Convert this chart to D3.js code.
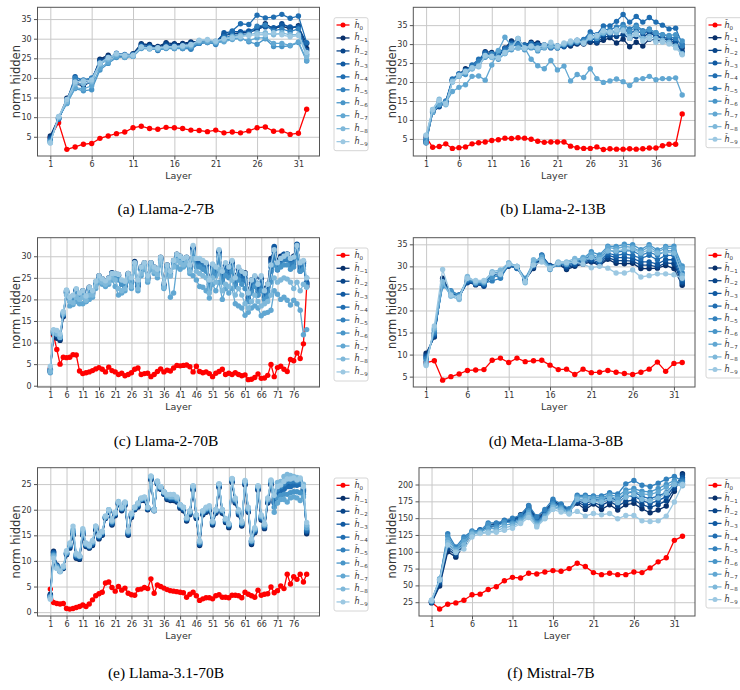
<!DOCTYPE html>
<html><head><meta charset="utf-8">
<script src="https://cdn.jsdelivr.net/npm/d3@7"></script>
<style>body{margin:0;background:#fff}svg{display:block}</style>
</head><body>
<svg id="chart" width="740" height="690"></svg>
<script>
// ---------------- DATA ----------------
const seriesLabels = ["0","\u22121","\u22122","\u22123","\u22124","\u22125","\u22126","\u22127","\u22128","\u22129"];
const xTicks32 = [1,6,11,16,21,26,31];
const xTicks40 = [1,6,11,16,21,26,31,36];
const xTicks80 = [1,6,11,16,21,26,31,36,41,46,51,56,61,66,71,76];
const yTicksA = [5,10,15,20,25,30,35];
const yTicksB = [5,10,15,20,25,30,35];
const yTicksC = [0,5,10,15,20,25,30];
const yTicksD = [5,10,15,20,25,30,35];
const yTicksE = [0,5,10,15,20,25];
const yTicksF = [25,50,75,100,125,150,175,200];
const captions = ["(a) Llama-2-7B","(b) Llama-2-13B","(c) Llama-2-70B","(d) Meta-Llama-3-8B","(e) Llama-3.1-70B","(f) Mistral-7B"];

// (a) Llama-2-7B
const a_h0 = [4.8,8.6,1.8,2.4,3.1,3.3,4.6,5.2,5.8,6.2,7.3,7.7,7.1,6.9,7.4,7.3,7.1,6.7,6.6,6.3,6.7,6.0,6.2,6.0,6.5,7.3,7.5,6.4,6.5,5.6,5.9,12.0];
const a_h1 = [5.2,9.8,14.8,18.5,18.0,19.2,24.8,25.8,25.5,25.3,26.2,28.7,28.5,28.0,29.0,28.7,28.8,29.2,29.3,29.5,29.3,31.0,31.3,31.5,31.8,32.5,33.8,32.5,33.2,32.5,33.3,27.5];
const a_h2 = [4.8,9.6,14.5,19.0,18.2,19.0,24.5,25.5,25.6,25.5,26.0,28.5,28.3,27.8,28.7,28.5,28.5,29.0,29.2,29.4,29.2,30.8,31.2,31.4,31.6,32.3,33.2,32.3,33.8,32.8,33.0,28.8];
const a_h3 = [4.5,9.5,14.2,20.3,19.2,19.8,24.2,25.2,25.8,25.8,25.8,28.2,28.0,27.5,28.3,28.2,28.2,28.6,29.0,29.3,29.0,31.5,31.8,31.8,32.0,32.8,33.0,32.8,33.5,33.0,33.0,27.0];
const a_h4 = [4.2,9.5,14.0,19.5,19.0,19.5,23.8,25.0,26.3,26.0,26.0,28.0,27.8,27.0,27.8,27.8,27.5,27.5,28.8,29.0,28.8,30.5,32.0,33.8,33.6,36.0,35.3,35.5,36.2,35.2,35.8,29.0];
const a_h5 = [4.0,9.7,13.8,20.0,19.5,20.0,23.5,24.8,25.8,25.8,25.5,27.8,27.7,27.2,27.6,27.5,27.8,27.3,28.8,29.2,28.5,30.2,30.8,31.0,31.2,33.2,33.5,32.0,32.5,31.8,32.5,26.0];
const a_h6 = [3.8,9.8,13.5,17.3,16.7,17.0,22.0,23.7,25.2,25.3,25.5,27.5,27.5,27.2,27.5,27.5,27.5,27.8,29.0,29.0,28.8,29.5,30.0,30.2,29.2,28.6,30.0,28.0,28.0,28.2,29.0,24.3];
const a_h7 = [3.6,10.0,13.5,17.5,17.2,18.0,22.5,24.0,25.5,25.2,25.5,27.6,27.4,27.3,27.7,27.6,27.8,28.0,29.2,29.2,29.0,29.2,29.8,30.0,29.5,30.2,30.2,28.8,28.8,28.3,29.2,24.5];
const a_h8 = [3.5,10.0,14.0,18.5,18.5,19.0,23.5,24.8,26.0,25.5,25.6,27.8,27.5,27.6,27.8,27.8,28.0,28.3,29.5,29.6,29.2,29.8,30.5,30.8,31.0,31.5,31.5,31.0,31.5,31.0,31.0,25.5];
const a_h9 = [3.4,10.2,14.5,19.0,19.2,19.5,23.8,25.2,26.2,25.8,25.8,27.9,27.6,27.7,27.9,28.0,28.2,28.5,29.6,29.8,29.4,30.0,30.2,30.5,30.8,31.0,31.0,31.5,31.0,30.5,30.8,26.5];

// (b) Llama-2-13B
const b_h0 = [5.5,2.8,3.0,3.7,2.5,2.7,2.9,3.7,4.0,4.2,4.6,4.8,5.2,5.1,5.3,5.2,4.9,4.4,4.1,4.2,4.2,4.2,3.1,2.7,2.5,2.5,2.9,2.2,2.4,2.3,2.3,2.4,2.3,2.4,2.6,2.6,3.2,3.6,3.6,11.6];
const b_h1 = [4.0,12.2,13.8,14.8,20.5,22.0,23.5,24.0,25.5,28.0,27.8,27.5,29.0,30.8,30.8,29.8,30.5,30.3,29.8,29.5,29.3,29.5,29.5,30.0,30.0,30.5,30.3,31.0,31.7,30.3,31.3,29.3,30.5,29.5,31.3,31.0,30.8,30.5,30.0,29.0];
const b_h2 = [4.2,12.0,13.5,14.5,20.3,21.8,23.2,23.8,25.2,27.5,27.5,27.3,28.8,30.5,30.5,29.6,30.2,30.0,29.5,29.3,29.2,29.5,29.8,30.2,30.3,30.8,30.5,31.8,32.2,32.0,32.5,31.5,32.0,31.8,33.0,32.0,31.5,31.0,30.5,28.0];
const b_h3 = [4.5,12.2,13.7,14.6,20.5,22.0,22.5,24.2,25.0,27.8,27.0,27.0,28.5,30.2,30.0,29.5,30.0,29.5,29.2,29.0,29.0,29.3,30.0,30.5,30.6,31.5,31.0,32.5,32.8,33.2,34.0,33.0,33.5,32.8,33.5,32.3,31.8,31.5,31.0,27.5];
const b_h4 = [4.8,12.4,14.0,15.0,20.8,22.2,23.0,24.5,26.0,27.5,27.3,27.8,28.8,30.0,30.2,29.8,30.2,29.8,29.8,29.8,29.5,29.8,30.5,31.0,31.2,33.2,32.5,34.8,34.8,36.0,37.8,35.8,37.3,35.8,37.0,35.8,35.0,34.0,34.2,30.0];
const b_h5 = [5.0,12.5,14.5,14.8,20.5,21.8,23.0,24.0,25.5,27.0,27.5,28.0,28.2,29.5,29.8,29.0,29.5,29.0,29.5,29.8,29.5,30.0,30.5,30.8,31.0,32.5,32.0,33.8,33.8,34.5,35.2,34.0,35.0,33.5,34.0,33.0,32.5,32.0,31.5,29.5];
const b_h6 = [5.5,12.6,15.0,14.2,20.0,21.5,22.0,23.5,24.5,26.5,26.5,26.0,27.5,28.5,29.0,28.5,29.0,28.2,29.0,29.2,29.0,29.8,30.2,30.5,30.2,31.5,31.5,32.8,33.2,33.5,34.5,33.3,34.5,33.2,33.8,33.0,32.5,32.3,32.5,30.8];
const b_h7 = [4.0,12.0,14.0,14.5,17.5,18.6,19.3,21.5,21.6,20.5,24.5,28.3,31.8,29.5,31.5,29.0,26.0,24.3,23.5,25.7,23.2,24.2,20.3,22.0,21.2,23.5,20.9,19.9,20.3,20.8,20.1,19.1,20.6,20.9,21.5,20.6,20.9,20.9,21.1,16.6];
const b_h8 = [6.0,12.8,15.5,14.0,20.2,21.5,22.5,23.5,24.0,26.8,26.5,26.5,27.5,28.8,29.0,28.8,29.3,28.5,29.2,29.5,29.2,30.0,30.5,30.8,30.5,32.0,32.0,33.0,33.0,33.0,33.8,32.0,33.0,31.5,32.0,31.5,31.0,30.5,29.5,27.5];
const b_h9 = [6.0,12.7,15.2,14.3,20.0,21.8,22.8,23.8,24.2,27.0,26.8,26.3,27.8,29.0,31.5,29.0,29.5,29.0,29.8,30.5,29.5,30.3,30.8,31.0,30.2,31.8,32.3,33.5,33.2,33.8,33.5,31.5,32.5,30.8,31.5,30.5,30.5,30.0,29.0,27.2];

// (c) Llama-2-70B
const c_h0 = [4.0,11.7,8.4,5.0,6.6,6.5,6.6,7.2,7.1,3.4, 2.8,3.0,3.2,3.5,3.9,4.2,3.8,3.2,4.3,3.5, 3.2,2.6,2.9,2.3,2.6,3.0,3.8,4.1,2.6,2.8, 2.9,2.1,2.6,3.3,3.9,3.2,3.6,3.4,4.1,4.7, 4.6,4.7,4.8,4.4,3.2,4.5,3.3,3.0,3.2,2.8, 2.1,2.9,3.3,3.8,2.6,2.9,2.6,3.0,2.6,2.3, 2.5,1.4,1.5,1.9,2.7,1.7,1.8,2.4,4.9,2.1, 4.2,4.5,3.8,3.3,6.1,5.8,7.6,6.3,9.7,23.0];
const c_h1 = [3.2,12.0,11.0,10.5,16.0,21.5,20.2,20.8,22.0,21.2, 22.0,20.5,22.8,21.8,24.0,25.5,24.8,24.3,25.0,26.2, 26.0,25.8,23.5,23.0,26.0,24.0,28.8,23.0,27.5,28.5, 25.5,28.5,27.5,26.8,29.8,23.5,28.0,26.5,29.0,30.5, 30.0,29.2,29.8,28.0,31.8,29.0,29.2,28.8,28.2,25.0, 28.0,27.2,31.0,26.5,28.0,27.5,28.5,25.5,27.2,26.0, 26.2,22.0,24.5,25.2,23.5,25.0,22.5,23.5,29.5,31.5, 29.0,30.0,30.2,30.5,29.5,30.0,32.5,28.5,28.5,23.5];
const c_h2 = [3.3,12.2,11.5,10.8,16.2,21.6,20.1,20.6,22.1,21.1, 21.9,20.2,22.6,21.6,23.9,25.3,24.6,24.1,24.9,26.1, 25.9,25.6,23.8,23.4,25.9,24.2,28.6,23.4,27.3,28.3, 25.2,28.4,27.3,26.6,29.6,23.4,27.9,26.2,28.9,30.4, 29.9,29.1,29.6,27.8,31.9,28.9,29.0,28.6,28.0,24.5, 27.9,27.0,31.1,26.0,27.9,27.2,28.6,25.0,27.0,25.8, 26.0,21.5,24.0,25.1,23.0,24.9,22.0,23.2,29.0,32.0, 28.5,29.8,30.4,30.5,29.2,29.8,32.7,28.0,28.7,23.8];
const c_h3 = [3.4,12.4,11.8,11.0,16.4,21.7,20.0,20.5,22.2,21.0, 21.8,20.0,22.5,21.5,23.8,25.2,24.5,24.0,24.8,26.0, 25.8,25.5,24.2,23.8,25.8,24.5,28.5,23.8,27.2,28.2, 25.0,28.3,27.2,26.5,29.5,23.2,27.8,26.0,28.8,30.3, 29.8,29.0,29.5,27.5,32.0,28.8,28.8,28.5,27.8,23.5, 27.8,26.8,31.2,25.5,27.8,26.8,28.8,24.5,26.8,25.5, 25.8,20.5,23.5,25.0,22.5,24.8,21.0,22.8,28.5,32.3, 28.0,29.5,30.5,30.5,29.0,29.5,32.8,27.5,28.8,24.0];
const c_h4 = [3.6,12.6,12.4,11.2,16.6,21.9,19.8,20.3,22.3,20.8, 21.6,19.8,22.3,21.3,23.6,25.0,24.3,23.8,24.6,25.8, 25.6,25.2,24.0,23.6,25.6,24.3,28.3,23.6,27.0,28.0, 24.8,28.0,27.0,26.3,29.3,23.0,27.6,25.8,28.6,30.0, 29.6,28.8,29.2,27.2,31.5,28.3,28.3,28.0,27.3,23.0, 27.3,26.3,30.5,25.0,27.0,26.0,28.0,24.0,26.0,24.8, 25.0,20.0,22.8,24.3,21.8,24.0,20.5,22.0,27.5,31.0, 27.5,28.8,29.8,29.8,28.5,28.8,32.0,27.0,28.3,23.5];
const c_h5 = [3.8,12.8,12.6,11.5,16.8,22.0,19.6,20.0,22.0,20.5, 21.3,19.5,22.0,21.0,23.3,24.8,24.0,23.5,24.3,25.5, 25.2,24.8,23.5,23.0,25.2,23.8,28.0,23.2,26.7,27.7, 24.5,27.7,26.7,26.0,29.0,22.8,27.3,25.5,28.2,29.7, 29.2,28.3,28.8,26.8,31.0,27.8,27.8,27.5,26.8,22.5, 26.8,25.8,30.0,24.5,26.5,25.5,27.5,23.5,25.5,24.3, 24.3,19.5,22.0,23.8,21.0,23.3,20.0,21.3,26.5,30.0, 26.8,28.0,29.2,29.2,28.0,28.2,31.5,26.5,27.8,23.0];
const c_h6 = [3.8,12.3,12.0,11.3,16.5,22.0,19.8,20.2,21.8,20.8, 21.5,20.0,22.3,21.3,23.5,25.0,24.3,23.8,24.5,25.8, 25.5,24.5,23.5,23.5,25.5,24.0,28.2,23.5,27.0,28.0, 24.8,28.0,27.0,26.2,29.2,23.0,27.5,25.8,28.5,30.0, 29.5,28.5,29.0,27.0,30.5,27.5,27.5,27.0,26.5,22.5, 26.5,25.5,29.5,24.0,25.5,25.0,26.5,23.0,24.5,23.5, 22.5,19.5,21.5,23.0,21.0,22.0,20.0,20.5,24.0,28.0, 27.0,27.5,28.0,28.0,27.0,27.5,30.0,26.5,27.0,25.0];
const c_h7 = [3.0,12.8,12.5,11.5,17.0,21.5,18.5,18.8,19.5,19.0, 19.0,19.5,20.0,20.5,22.5,24.0,23.5,23.0,23.5,24.5, 23.0,21.0,21.5,22.0,24.5,22.5,27.0,22.0,25.5,27.0, 24.0,27.0,26.0,25.0,28.5,22.5,26.5,20.5,21.5,27.5, 27.0,27.5,28.0,26.0,25.5,24.5,23.0,22.8,22.0,20.3, 23.5,22.0,24.0,20.0,22.5,21.5,22.5,19.0,18.5,18.0, 16.3,17.0,18.0,18.5,18.0,16.2,16.8,17.0,17.5,22.0, 21.2,20.0,20.5,19.8,18.7,19.8,19.0,17.5,11.8,13.0];
const c_h8 = [3.3,12.6,12.0,11.2,16.8,21.0,19.5,19.2,20.5,20.0, 20.5,19.8,21.0,21.0,23.0,24.5,24.0,23.5,24.0,25.0, 24.5,22.5,22.0,22.5,25.0,23.0,27.5,22.5,26.0,27.5, 24.5,27.5,26.5,25.8,29.0,22.8,27.0,25.5,27.5,29.0, 28.5,28.0,28.5,26.5,29.5,26.5,26.0,25.5,25.0,21.5, 25.0,24.0,27.0,22.0,23.5,23.0,24.5,21.0,22.5,21.0, 19.0,18.0,19.5,21.0,19.5,18.5,19.0,19.5,21.0,25.0, 24.0,24.5,25.0,24.7,24.0,22.5,24.0,22.0,23.5,22.8];
const c_h9 = [4.5,13.0,12.8,12.0,17.2,22.2,20.5,21.0,22.5,21.5, 22.0,20.8,22.8,22.0,24.2,25.5,24.8,24.3,25.0,26.0, 26.0,25.8,24.5,24.2,26.0,25.0,28.5,24.5,27.5,28.5, 25.5,28.5,27.5,27.0,29.8,23.8,28.0,26.5,29.0,30.5, 30.0,29.5,29.8,28.0,32.5,29.5,29.5,29.0,28.5,24.5, 28.2,27.5,31.5,26.5,28.5,27.5,29.0,25.0,27.5,26.5, 26.0,21.5,24.5,25.5,23.5,25.5,22.0,23.5,28.0,31.5, 28.5,29.5,30.0,30.5,29.5,29.8,32.5,28.5,29.0,25.0];

// (d) Meta-Llama-3-8B
const d_h0 = [8.2,8.6,4.2,5.0,5.6,6.4,6.5,6.6,8.7,9.2,8.2,9.2,8.4,8.6,8.7,7.6,6.6,6.7,5.5,6.7,5.9,6.0,6.4,6.0,5.7,5.5,6.0,6.7,8.3,6.2,8.0,8.2];
const d_h1 = [10.3,14.0,27.3,24.0,23.5,26.5,25.8,25.8,28.0,28.5,30.0,29.8,27.0,29.5,32.0,30.0,30.5,29.3,30.0,30.5,31.0,30.2,31.6,30.7,30.6,30.7,29.5,29.5,29.6,30.2,29.5,25.7];
const d_h2 = [9.8,14.2,26.8,24.2,23.2,26.3,26.0,25.5,28.2,28.3,30.2,29.6,26.8,29.8,32.3,30.2,30.5,29.6,30.3,30.8,31.2,30.5,32.0,31.3,31.3,31.2,30.3,30.3,29.9,30.8,30.6,26.2];
const d_h3 = [9.5,14.5,26.5,24.0,23.0,26.5,26.2,25.8,28.3,28.0,30.3,29.8,27.0,30.0,32.6,30.0,30.8,30.0,30.5,31.0,31.5,30.8,32.5,32.0,32.0,31.8,31.0,31.0,30.5,31.5,31.5,26.5];
const d_h4 = [9.2,14.8,26.0,23.8,22.8,26.8,26.0,26.0,28.0,27.5,30.2,29.5,27.2,30.3,32.3,29.8,30.7,30.3,30.8,31.3,32.0,31.2,33.0,32.5,32.8,32.5,31.8,32.5,31.5,32.5,32.5,27.0];
const d_h5 = [9.0,15.0,25.8,24.5,23.5,27.0,26.2,26.2,26.7,27.3,30.5,29.8,27.0,30.5,32.5,29.5,30.5,30.5,31.0,31.5,32.5,31.5,33.8,33.2,33.5,33.5,32.5,33.2,32.5,33.5,33.5,28.5];
const d_h6 = [8.5,15.5,25.5,24.3,23.3,27.2,26.5,26.3,27.5,28.0,30.5,30.0,27.3,30.8,32.2,29.3,30.5,30.8,31.3,31.8,33.3,32.6,34.6,34.5,35.0,34.9,33.8,34.9,33.7,34.5,34.6,30.1];
const d_h7 = [8.0,15.8,26.0,23.5,23.0,27.5,26.3,26.5,28.5,28.8,30.8,30.0,26.5,31.0,32.0,29.8,30.8,30.5,31.5,32.0,32.8,32.0,34.3,34.0,34.5,34.3,33.3,34.5,33.2,34.2,34.0,29.5];
const d_h8 = [7.8,16.0,26.5,23.2,22.5,27.7,26.5,26.5,28.8,29.2,30.8,30.0,26.3,31.5,31.5,29.5,31.0,31.0,31.8,31.5,32.0,31.5,33.5,33.5,33.8,34.0,33.0,33.8,33.0,33.2,33.0,28.0];
const d_h9 = [7.5,16.5,29.3,23.5,23.0,27.3,26.8,26.8,28.5,28.2,30.5,30.0,26.5,30.3,31.0,29.5,30.8,30.8,31.0,30.5,29.7,30.0,29.6,28.5,28.5,29.2,27.6,27.9,28.3,28.3,28.1,27.3];

// (e) Llama-3.1-70B
const e_h0 = [4.5,1.9,1.7,1.6,1.7,0.7,0.6,0.7,0.9,1.1, 1.4,1.1,1.6,2.4,3.2,3.6,3.9,5.7,5.9,4.8, 4.1,5.0,4.3,4.7,3.7,3.4,3.3,4.4,4.5,4.8, 4.6,6.5,3.7,5.3,5.0,4.7,4.4,4.2,4.1,4.0, 3.9,3.8,2.9,3.5,3.9,3.2,2.3,2.6,2.8,2.8, 2.6,3.2,3.4,2.9,2.9,2.8,3.3,3.3,3.2,2.8, 3.9,3.5,3.2,2.9,4.3,3.3,3.5,3.6,4.9,3.8, 4.2,5.1,4.6,7.4,5.5,6.9,6.4,7.4,5.9,7.4];
const e_h1 = [3.5,11.9,9.2,8.0,8.5,11.2,12.5,15.0,10.5,10.3, 15.0,12.8,12.5,13.0,16.0,14.3,15.0,18.3,19.5,17.0, 18.8,21.0,19.8,20.8,15.0,18.5,20.0,20.5,21.8,21.8, 20.0,25.8,19.8,25.0,24.0,23.0,22.0,21.8,21.8,21.5, 20.3,19.8,17.8,19.0,23.8,18.3,13.0,19.0,19.5,19.8, 17.0,19.3,24.3,19.3,17.5,16.5,25.3,21.3,19.0,16.8, 24.8,19.5,13.2,15.5,23.8,18.0,16.3,21.3,24.8,22.0, 23.5,24.0,24.5,25.0,25.0,25.2,25.0,25.2,24.0,15.3];
const e_h2 = [3.3,11.7,9.1,8.1,8.6,11.3,12.7,15.2,10.7,10.5, 15.2,13.0,12.6,13.2,16.2,14.5,15.2,18.4,19.6,17.2, 19.0,21.1,20.0,21.0,15.2,18.7,20.1,20.7,21.9,22.0, 20.1,26.0,19.9,25.1,24.1,23.1,22.2,22.0,22.0,21.7, 20.5,20.0,18.0,19.2,24.0,18.5,13.2,19.2,19.7,20.0, 17.2,19.5,24.5,19.5,17.7,16.7,25.5,21.5,19.2,17.0, 25.0,19.7,13.4,15.7,24.0,18.2,16.5,21.5,25.0,21.6, 23.3,23.9,24.3,24.8,24.9,25.0,24.9,25.1,23.8,15.6];
const e_h3 = [3.2,11.6,9.0,8.2,8.7,11.4,12.8,15.4,10.8,10.6, 15.3,13.1,12.7,13.3,16.3,14.6,15.3,18.5,19.7,17.3, 19.1,21.2,20.1,21.1,15.3,18.8,20.2,20.8,22.0,22.1, 20.2,26.1,20.0,25.2,24.2,23.2,22.3,22.1,22.1,21.8, 20.6,20.1,18.1,19.3,24.1,18.6,13.3,19.3,19.8,20.1, 17.3,19.6,24.6,19.6,17.8,16.8,25.6,21.6,19.3,17.1, 25.1,19.8,13.6,15.8,24.1,18.3,16.6,21.6,25.1,21.4, 23.1,23.7,24.1,24.6,24.7,24.9,24.8,25.0,23.7,15.8];
const e_h4 = [3.1,11.4,9.0,8.2,8.8,11.5,13.0,15.5,11.0,10.8, 15.5,13.2,12.8,13.5,16.5,14.8,15.5,18.5,19.8,17.5, 19.2,21.3,20.2,21.2,15.5,19.0,20.3,21.0,22.0,22.2, 20.3,26.3,20.0,25.3,24.3,23.3,22.5,22.3,22.3,22.0, 20.8,20.3,18.2,19.5,24.3,18.8,13.5,19.5,20.0,20.2, 17.5,19.8,24.8,19.8,18.0,17.0,25.8,21.8,19.5,17.3, 25.3,20.0,13.8,16.0,24.3,18.5,16.8,21.8,25.3,21.3, 23.0,23.8,24.0,24.5,24.5,24.8,24.8,25.0,23.5,16.0];
const e_h5 = [3.0,11.2,8.9,8.1,8.8,11.5,13.1,15.6,11.1,10.9, 15.6,13.2,12.9,13.6,16.6,14.9,15.6,18.6,19.9,17.6, 19.3,21.4,20.3,21.3,15.6,19.1,20.4,21.1,22.1,22.3, 20.4,26.4,20.0,25.4,24.4,23.4,22.6,22.4,22.4,22.1, 20.9,20.4,18.3,19.6,24.4,18.9,13.6,19.6,20.1,20.3, 17.6,19.9,24.9,19.9,18.1,17.1,25.9,21.9,19.6,17.4, 25.4,20.1,13.9,16.1,24.4,18.6,16.9,21.9,25.4,22.5, 24.0,24.5,25.0,25.5,25.5,25.6,25.5,25.6,24.2,16.3];
const e_h6 = [2.9,11.1,8.8,8.0,8.8,11.6,13.2,15.8,11.2,10.9, 15.8,13.3,12.9,13.7,16.6,14.9,15.6,18.6,19.9,17.7, 19.3,21.4,20.3,21.3,15.7,19.1,20.4,21.1,22.1,22.3, 20.4,26.4,20.1,25.4,24.4,23.4,22.7,22.5,22.5,22.2, 20.9,20.4,18.3,19.6,24.5,18.9,13.7,19.6,20.2,20.4, 17.6,19.9,24.9,19.9,18.1,17.1,25.9,22.0,19.7,17.4, 25.4,20.2,13.9,16.2,24.5,18.7,17.0,22.0,25.5,20.5, 22.3,22.8,23.0,23.0,23.3,23.5,23.5,23.3,23.0,16.8];
const e_h7 = [2.9,11.0,8.8,8.1,8.8,11.6,13.2,15.8,11.2,10.9, 15.8,13.3,12.9,13.7,16.6,14.9,15.6,18.6,19.9,17.7, 19.3,21.4,20.3,21.3,15.7,19.1,20.4,21.1,22.1,22.3, 20.4,26.4,20.1,25.4,24.4,23.4,22.7,22.5,22.5,22.2, 20.9,20.4,18.3,19.6,24.5,18.9,13.7,19.6,20.2,20.4, 17.6,19.9,24.9,19.9,18.1,17.1,25.9,22.0,19.7,17.4, 25.4,20.2,13.9,16.2,24.5,18.7,17.0,22.0,25.5,19.5, 21.3,22.0,22.0,21.5,22.3,22.5,22.3,21.8,22.5,16.5];
const e_h8 = [2.8,10.8,8.6,7.9,8.9,11.8,13.3,16.2,11.3,11.0, 16.0,13.4,13.0,13.8,16.8,15.0,15.7,18.7,20.0,17.8, 19.4,21.6,20.4,21.4,15.8,19.2,20.5,21.2,22.2,22.4, 20.4,26.5,19.8,25.5,24.5,23.5,22.8,22.6,22.6,22.3, 21.0,20.5,18.4,19.7,24.6,19.0,13.8,19.7,20.3,20.5, 17.7,20.0,25.0,20.0,18.2,17.2,26.0,22.1,19.8,17.5, 25.5,20.3,14.0,16.3,24.6,18.8,17.1,22.1,25.6,23.5, 25.3,25.5,26.5,26.9,26.7,26.5,26.3,26.0,25.0,17.0];
const e_h9 = [2.5,10.5,8.5,8.0,9.0,12.0,13.5,16.8,11.5,11.0, 16.3,13.5,13.0,14.0,16.8,15.0,15.8,18.8,20.0,18.0, 19.5,21.5,20.5,21.5,16.0,19.3,20.5,21.3,22.3,22.5, 20.5,26.6,20.0,25.6,24.5,23.5,23.0,23.0,23.0,22.5, 21.0,20.5,18.5,19.8,24.7,19.0,14.0,19.8,20.5,20.8, 17.8,20.0,25.1,20.0,18.3,17.3,26.1,22.3,20.0,17.8, 25.7,20.5,14.3,16.5,24.7,19.0,17.3,22.3,25.8,22.8, 24.5,24.8,25.5,26.0,26.0,26.2,25.8,26.2,24.5,17.5];

// (f) Mistral-7B
const f_h0 = [25,15,22,24,28,36,37,44,48,57,62,61,68,67,70,72,71,75,83,78,69,66,68,66,66,70,69,76,85,91,117,123];
const f_h1 = [24,49,100,92,110,125,131,140,142,145,148,155,168,150,160,175,170,162,172,163,171,163,170,162,170,172,164,158,162,168,190,216];
const f_h2 = [25,52,104,95,112,127,132,138,141,144,147,153,166,148,158,173,169,161,174,168,173,169,175,168,175,177,170,166,170,176,194,214];
const f_h3 = [25,55,108,98,114,128,132,137,140,146,146,152,165,146,157,174,168,162,176,172,176,174,178,173,182,183,176,172,176,182,198,210];
const f_h4 = [26,57,112,100,117,129,133,135,139,147,145,150,163,145,156,175,167,163,178,176,178,177,181,176,187,189,182,179,183,188,201,207];
const f_h5 = [27,58,127,107,122,131,131,143,143,146,150,154,169,152,163,178,171,164,184,184,183,183,188,186,201,206,199,197,202,208,212,205];
const f_h6 = [27,59,123,104,119,130,130,141,137,144,143,148,161,143,154,171,166,160,182,182,181,180,185,182,192,194,190,189,194,200,206,202];
const f_h7 = [26,60,118,103,115,128,129,135,134,140,141,146,158,141,152,168,164,158,180,180,179,178,183,178,188,190,186,185,189,196,203,200];
const f_h8 = [28,59,114,101,110,126,128,130,131,136,138,144,155,139,150,166,162,157,178,176,175,174,179,173,181,185,178,176,180,187,200,198];
const f_h9 = [28,58,110,99,104,122,127,128,129,132,135,142,151,137,149,163,159,156,160,153,157,155,157,149,154,154,146,145,146,153,174,200];

// ---------------- RENDER ----------------
const blues = d3.range(9).map(i => d3.interpolateBlues(1 - i * 0.625 / 8));
const colors = ["#ff0000"].concat(blues);

const panels = [
  {series:[a_h0,a_h1,a_h2,a_h3,a_h4,a_h5,a_h6,a_h7,a_h8,a_h9], xt:xTicks32, yt:yTicksA,
   L:37.5, R:319.5, T:7.3, B:156, yd:[0.1,38.0], ylx:16, lg:{x:334,y:17.7,w:34,h:133,dy:12.96,tx:18}, cap:{x:166,y:214}},
  {series:[b_h0,b_h1,b_h2,b_h3,b_h4,b_h5,b_h6,b_h7,b_h8,b_h9], xt:xTicks40, yt:yTicksB,
   L:413.3, R:695, T:7.3, B:156, yd:[0.5,39.7], ylx:392, lg:{x:706,y:17.7,w:40,h:130,dy:12.7,tx:16}, cap:{x:553,y:214}},
  {series:[c_h0,c_h1,c_h2,c_h3,c_h4,c_h5,c_h6,c_h7,c_h8,c_h9], xt:xTicks80, yt:yTicksC,
   L:37.5, R:319.5, T:237.7, B:387, yd:[-0.3,34.3], ylx:16, lg:{x:334,y:248,w:34,h:133,dy:12.96,tx:18}, cap:{x:166,y:446}},
  {series:[d_h0,d_h1,d_h2,d_h3,d_h4,d_h5,d_h6,d_h7,d_h8,d_h9], xt:xTicks32, yt:yTicksD,
   L:413.3, R:695, T:237.7, B:387, yd:[2.65,36.5], ylx:392, lg:{x:706,y:248,w:40,h:130,dy:12.7,tx:16}, cap:{x:556,y:446}},
  {series:[e_h0,e_h1,e_h2,e_h3,e_h4,e_h5,e_h6,e_h7,e_h8,e_h9], xt:xTicks80, yt:yTicksE,
   L:37.5, R:319.5, T:467.7, B:616, yd:[-0.75,28.2], ylx:16, lg:{x:334,y:478,w:34,h:133,dy:12.96,tx:18}, cap:{x:166,y:678}},
  {series:[f_h0,f_h1,f_h2,f_h3,f_h4,f_h5,f_h6,f_h7,f_h8,f_h9], xt:xTicks32, yt:yTicksF,
   L:419, R:695, T:467.7, B:616, yd:[4.5,225], ylx:392, lg:{x:706,y:478,w:40,h:130,dy:12.7,tx:16}, cap:{x:551,y:678}}
];

const svg = d3.select("#chart");
const FONT = "'DejaVu Sans', sans-serif";

panels.forEach((p, pi) => {
  const n = p.series[0].length;
  const m = (n - 1) * 0.05;
  const x = d3.scaleLinear().domain([1 - m, n + m]).range([p.L, p.R]);
  const y = d3.scaleLinear().domain(p.yd).range([p.B, p.T]);
  const g = svg.append("g");

  // grid
  g.append("g").attr("transform", `translate(0,${p.B})`)
    .call(d3.axisBottom(x).tickValues(p.xt).tickSize(-(p.B - p.T)).tickFormat(""))
    .call(s => { s.select(".domain").remove(); s.selectAll("line").attr("stroke", "#c8c8c8").attr("stroke-width", 1); });
  g.append("g").attr("transform", `translate(${p.L},0)`)
    .call(d3.axisLeft(y).tickValues(p.yt).tickSize(-(p.R - p.L)).tickFormat(""))
    .call(s => { s.select(".domain").remove(); s.selectAll("line").attr("stroke", "#c8c8c8").attr("stroke-width", 1); });

  // series
  const line = d3.line().x((d, i) => x(i + 1)).y(d => y(d));
  p.series.forEach((vals, si) => {
    const sg = g.append("g");
    sg.append("path").datum(vals).attr("d", line).attr("fill", "none")
      .attr("stroke", colors[si]).attr("stroke-width", 1.3);
    sg.selectAll("circle").data(vals).join("circle")
      .attr("cx", (d, i) => x(i + 1)).attr("cy", d => y(d)).attr("r", 2.7)
      .attr("fill", colors[si]);
  });

  // frame
  g.append("rect").attr("x", p.L).attr("y", p.T).attr("width", p.R - p.L).attr("height", p.B - p.T)
    .attr("fill", "none").attr("stroke", "#555").attr("stroke-width", 1);

  // axes
  const xa = g.append("g").attr("transform", `translate(0,${p.B})`)
    .call(d3.axisBottom(x).tickValues(p.xt).tickSize(3.5).tickPadding(2).tickFormat(d3.format("d")));
  const ya = g.append("g").attr("transform", `translate(${p.L},0)`)
    .call(d3.axisLeft(y).tickValues(p.yt).tickSize(3.5).tickPadding(2.3).tickFormat(d3.format("d")));
  [xa, ya].forEach(a => {
    a.select(".domain").remove();
    a.selectAll("line").attr("stroke", "#555");
    a.selectAll("text").attr("font-family", FONT).attr("font-size", 8).attr("fill", "#333");
  });

  g.append("text").attr("x", (p.L + p.R) / 2).attr("y", p.B + 23).attr("text-anchor", "middle")
    .attr("font-family", FONT).attr("font-size", 9.5).attr("fill", "#333").text("Layer");
  g.append("text").attr("transform", `translate(${p.ylx},${(p.T + p.B) / 2}) rotate(-90)`)
    .attr("text-anchor", "middle").attr("dy", "0.35em")
    .attr("font-family", FONT).attr("font-size", 11.5).attr("fill", "#333").text("norm hidden");

  // legend
  const lg = g.append("g");
  lg.append("rect").attr("x", p.lg.x).attr("y", p.lg.y).attr("width", p.lg.w).attr("height", p.lg.h)
    .attr("rx", 2).attr("fill", "#fff").attr("stroke", "#d6d6d6");
  seriesLabels.forEach((lab, si) => {
    const cy = p.lg.y + 7.3 + si * p.lg.dy;
    const x0 = p.lg.x + 2.5;
    lg.append("line").attr("x1", x0).attr("x2", x0 + 13).attr("y1", cy).attr("y2", cy)
      .attr("stroke", colors[si]).attr("stroke-width", 1.3);
    lg.append("circle").attr("cx", x0 + 6.5).attr("cy", cy).attr("r", 2.5).attr("fill", colors[si]);
    const t = lg.append("text").attr("x", x0 + p.lg.tx).attr("y", cy + 2.5)
      .attr("font-family", FONT).attr("font-size", 8).attr("fill", "#333");
    t.append("tspan").attr("font-style", "italic").text("h\u0304");
    t.append("tspan").attr("dy", 2).attr("font-size", 5.5).text(lab);
  });

  // caption
  svg.append("text").attr("x", p.cap.x).attr("y", p.cap.y).attr("text-anchor", "middle")
    .attr("font-family", "'Liberation Serif', 'Times New Roman', serif").attr("font-size", 15.5)
    .attr("fill", "#000").text(captions[pi]);
});
</script>
</body></html>
